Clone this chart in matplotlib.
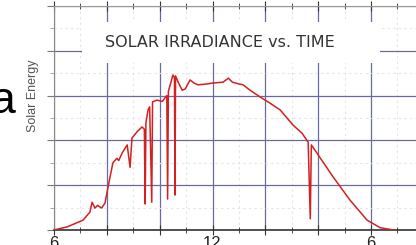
import matplotlib
matplotlib.use("Agg")
import matplotlib.pyplot as plt
from matplotlib.patches import Rectangle

# time of day (hours) and irradiance (grid units)
hours = [6.0, 6.5, 7.1, 7.36, 7.44, 7.55, 7.65, 7.8, 7.93, 8.0, 8.12, 8.23,
         8.38, 8.45, 8.58, 8.77, 8.88, 8.95, 9.14, 9.33, 9.42, 9.45, 9.48,
         9.56, 9.62, 9.7, 9.73, 9.9, 10.1, 10.2, 10.27, 10.3, 10.33, 10.4,
         10.5, 10.56, 10.58, 10.6, 10.7, 10.85, 10.97, 11.15, 11.3, 11.45,
         11.8, 12.0, 12.4, 12.6, 12.75, 13.0, 13.16, 13.42, 13.8, 14.18,
         14.56, 15.05, 15.39, 15.62, 15.7, 15.74, 15.96, 16.57, 17.2, 17.85,
         18.35, 18.85]
energy = [0.0, 0.07, 0.22, 0.4, 0.62, 0.49, 0.55, 0.49, 0.6, 0.82, 1.18, 1.5,
          1.6, 1.55, 1.72, 1.9, 1.4, 2.05, 2.19, 2.3, 2.25, 0.58, 2.4,
          2.68, 2.75, 0.62, 2.86, 2.9, 2.87, 2.95, 3.0, 0.69, 3.1, 3.24,
          3.46, 3.4, 0.78, 3.44, 3.3, 3.12, 3.15, 3.35, 3.28, 3.24,
          3.26, 3.28, 3.3, 3.39, 3.3, 3.26, 3.24, 3.12, 2.97, 2.83,
          2.68, 2.34, 2.16, 1.96, 0.25, 1.9, 1.71, 1.18, 0.67, 0.22,
          0.05, 0.0]

xticks = [6, 8, 10, 12, 14, 16, 18]
xticklabels = ["6", "", "", "12", "", "", "6"]

fig = plt.figure(figsize=(4.16, 2.45), dpi=100)
ax = fig.add_axes([54/416, 1 - 230/245, 362/416, 224/245])

ax.plot(hours, energy, color="#d42020", lw=1.1, zorder=3)

ax.set_xlim(6, 6 + 362/26.42)
ax.set_ylim(0, 5)
ax.set_xticks(xticks)
ax.set_xticklabels(xticklabels, fontsize=12, color="#222222", family="Liberation Sans")
ax.set_xticks(range(6, 20), minor=True)
ax.set_yticks(range(0, 6))
ax.set_yticks([i + 0.5 for i in range(5)], minor=True)
ax.set_yticklabels([])

ax.set_axisbelow(True)
ax.grid(which="major", color="#6a6aa2", lw=0.9)
ax.grid(which="minor", color="#e2e3ec", lw=0.8, ls=(0, (2, 3)))

ax.tick_params(axis="x", which="both", direction="inout", top=True,
               color="#333333", pad=1)
ax.tick_params(axis="x", which="major", length=7)
ax.tick_params(axis="x", which="minor", length=4)
ax.tick_params(axis="y", which="major", direction="out", length=5, color="#777777")
ax.tick_params(axis="y", which="minor", direction="out", length=3, color="#999999")

ax.spines["left"].set_color("#888888")
ax.spines["top"].set_color("#999999")
ax.spines["bottom"].set_color("#333333")
ax.spines["bottom"].set_linewidth(1.2)
ax.spines["right"].set_visible(False)

# white box behind the title
ax.add_patch(Rectangle((0.0773, 0.7455), 0.8233, 0.1831, transform=ax.transAxes,
                       facecolor="white", edgecolor="none", zorder=1))
ax.text(0.4586, 0.835, "SOLAR IRRADIANCE vs. TIME", transform=ax.transAxes,
        ha="center", va="center", fontsize=11.5, color="#333333", zorder=4)

fig.text(33/416, 1 - 96/245, "Solar Energy", rotation=90, ha="center", va="center",
         fontsize=9, color="#555555", family="Liberation Sans")

# fragment of slide text on the left
fig.text(15/416, 1 - 113/245, "a", ha="right", va="baseline", fontsize=32,
         color="black", family="Liberation Sans")

fig.savefig("out.png", dpi=100)
